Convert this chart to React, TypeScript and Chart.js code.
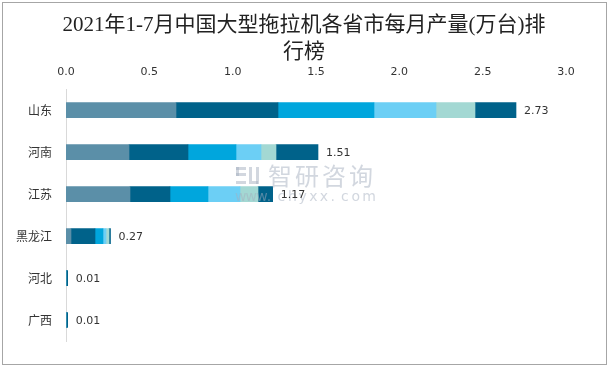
import React, { useEffect, useRef } from "react";
import { Chart, registerables } from "chart.js";

Chart.register(...registerables);

const categories = ["山东", "河南", "江苏", "黑龙江", "河北", "广西"];
const totals = ["2.73", "1.51", "1.17", "0.27", "0.01", "0.01"];
const seg1 = [0.66, 0.378, 0.384, 0.03, 0, 0];
const seg2 = [0.612, 0.354, 0.24, 0.144, 0, 0];
const seg3 = [0.576, 0.288, 0.228, 0.048, 0, 0];
const seg4 = [0.372, 0.15, 0.192, 0.018, 0, 0];
const seg5 = [0.234, 0.09, 0.108, 0.018, 0, 0];
const seg6 = [0.246, 0.252, 0.088, 0.009, 0.01, 0.01];
const xTicks = [0, 0.5, 1, 1.5, 2, 2.5, 3];
const titleLines = ["2021年1-7月中国大型拖拉机各省市每月产量(万台)排", "行榜"];

const segColors = ["#5b8fa8", "#00628a", "#00a6dd", "#6ccff5", "#a3d8d3", "#00628a"];

export default function App() {
  const ref = useRef<HTMLCanvasElement | null>(null);
  useEffect(() => {
    document.body.style.margin = "0";
    const canvas = ref.current;
    if (!canvas) return;
    const series = [seg1, seg2, seg3, seg4, seg5, seg6];
    const overlay = {
      id: "overlay",
      afterDatasetsDraw(chart: any) {
        const ctx = chart.ctx;
        const xs = chart.scales.x;
        const ys = chart.scales.y;
        ctx.save();
        // watermark
        ctx.fillStyle = "rgba(165,175,192,0.5)";
        ctx.fillRect(236, 167, 10, 3);
        ctx.fillRect(236, 167, 3, 9);
        ctx.fillRect(236, 173, 10, 3);
        ctx.fillRect(236, 181, 10, 3);
        ctx.fillRect(249, 167, 3, 17);
        ctx.fillRect(256, 167, 3, 17);
        ctx.fillRect(252, 181, 6, 3);
        ctx.font = "24px 'Noto Sans CJK SC'";
        ctx.textBaseline = "middle";
        ctx.textAlign = "left";
        const wm = "智研咨询";
        for (let i = 0; i < wm.length; i++) {
          ctx.fillText(wm[i], 268 + i * 27, 176);
        }
        ctx.font = "14px 'DejaVu Sans'";
        const w = "www.chyxx.com";
        for (let i = 0; i < w.length; i++) {
          ctx.fillText(w[i], 235 + i * 10.6, 197);
        }
        // data labels
        ctx.fillStyle = "#333333";
        ctx.font = "11px 'DejaVu Sans'";
        ctx.textAlign = "left";
        ctx.textBaseline = "middle";
        categories.forEach((_, i) => {
          let sum = 0;
          series.forEach((s) => (sum += s[i]));
          const x = xs.getPixelForValue(sum) + 8;
          const y = ys.getPixelForValue(i);
          ctx.fillText(totals[i], x, y + 1);
        });
        ctx.restore();
      },
      afterDraw(chart: any) {
        const ctx = chart.ctx;
        ctx.save();
        ctx.fillStyle = "#222222";
        ctx.font = "21px 'Liberation Serif', 'Noto Sans CJK SC'";
        ctx.textAlign = "center";
        ctx.textBaseline = "middle";
        ctx.fillText(titleLines[0], 304, 25);
        ctx.fillText(titleLines[1], 304, 52);
        ctx.strokeStyle = "#a6a6a6";
        ctx.lineWidth = 1;
        ctx.strokeRect(2.5, 2.5, 604, 362);
        ctx.restore();
      },
    };
    const chart = new Chart(canvas, {
      type: "bar",
      data: {
        labels: categories,
        datasets: series.map((s, k) => ({
          label: "s" + (k + 1),
          data: s,
          backgroundColor: segColors[k],
          borderWidth: 0,
          barThickness: 15,
        })),
      },
      options: {
        indexAxis: "y",
        animation: false,
        responsive: false,
        maintainAspectRatio: false,
        layout: { padding: { left: 0, right: 43, top: 62, bottom: 27 } },
        plugins: {
          legend: { display: false },
          tooltip: { enabled: false },
          title: { display: false },
        },
        scales: {
          x: {
            position: "top",
            stacked: true,
            min: 0,
            max: 3,
            afterBuildTicks(scale: any) {
              scale.ticks = xTicks.map((v) => ({ value: v }));
            },
            ticks: {
              color: "#333333",
              font: { size: 11, family: "'DejaVu Sans'" },
              padding: 4,
              maxRotation: 0,
              callback: (v: any) => Number(v).toFixed(1),
            },
            grid: { display: false, drawTicks: true, tickLength: 6 },
            border: { display: false },
          },
          y: {
            stacked: true,
            afterFit(scale: any) {
              scale.width = 66;
            },
            ticks: {
              color: "#333333",
              font: { size: 12, family: "'Noto Sans CJK SC'" },
              padding: 14,
            },
            grid: { display: false, drawTicks: false },
            border: { display: true, color: "#d9d9d9", width: 1 },
          },
        },
      },
      plugins: [overlay],
    });
    return () => chart.destroy();
  }, []);
  return (
    <div style={{ width: 609, height: 368 }}>
      <canvas ref={ref} width={609} height={368} style={{ display: "block" }} />
    </div>
  );
}
